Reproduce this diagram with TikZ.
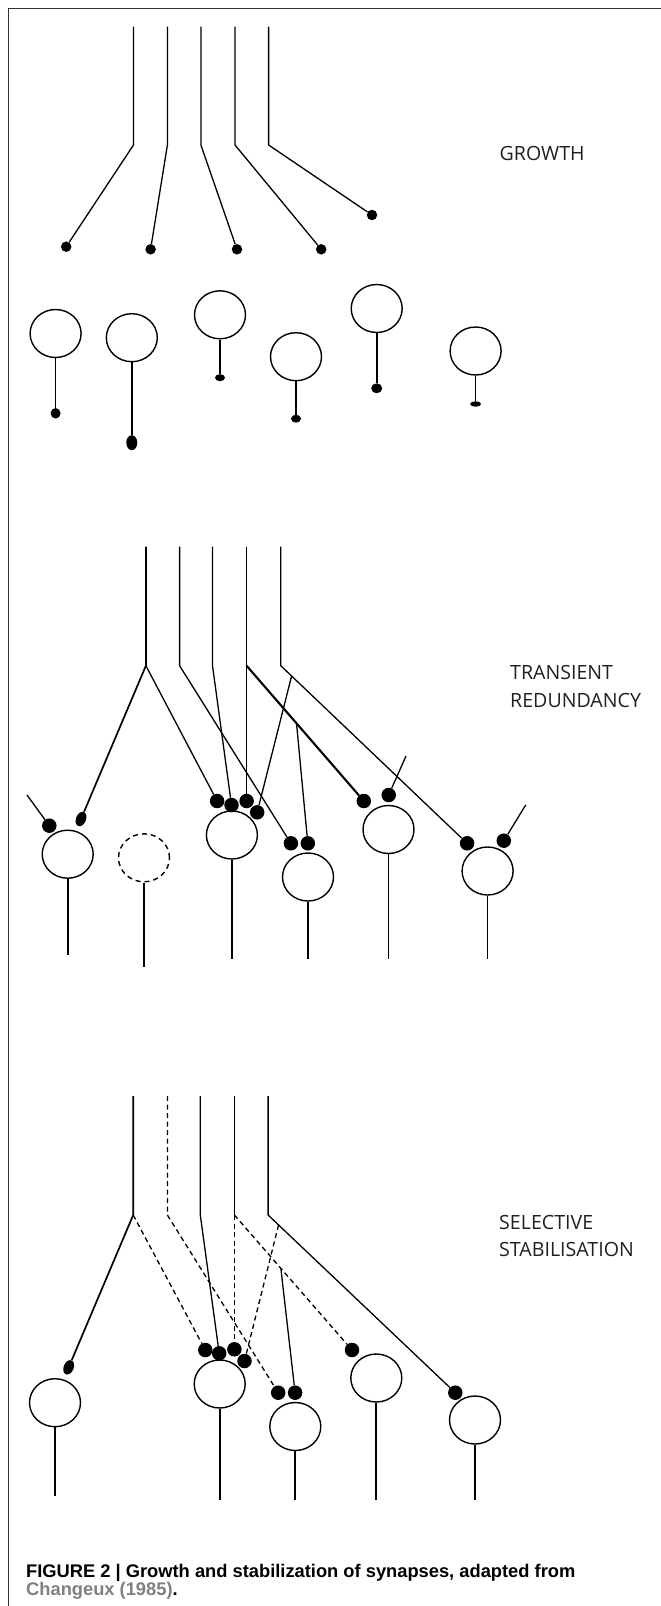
\documentclass[tikz,border=0pt]{standalone}
\usepackage{fontspec}
\usepackage{tikz}
\usetikzlibrary{shapes.geometric,calc}
\newfontfamily\stagefont{Open Sans}
\newfontfamily\capfont{Liberation Sans}
\definecolor{inkgrey}{HTML}{231F20}
\definecolor{refgrey}{HTML}{808080}

\tikzset{
  cell/.style={draw, ellipse, inner sep=0pt, minimum width=51pt, minimum height=48pt, line width=1.4pt},
  deadcell/.style={cell, dash pattern=on 5pt off 4pt},
  bouton/.style={fill, circle, inner sep=0pt, minimum size=14.5pt},
  knob/.style 2 args={fill, ellipse, inner sep=0pt, minimum width=#1, minimum height=#2},
  fibre/.style={line width=1.3pt},
  lost/.style={fibre, dash pattern=on 5pt off 3.5pt},
  stem/.style={line width=1.7pt},
  stage/.style={font=\stagefont\fontsize{19.6}{24}\selectfont, text=inkgrey, anchor=base west, inner sep=0pt},
  capt/.style={font=\capfont\bfseries\fontsize{18.3}{20}\selectfont, anchor=base west, inner sep=0pt},
}

\begin{document}
\begin{tikzpicture}[x=1pt, y=-1pt]
    \useasboundingbox (0,0) rectangle (661,1606);
    % frame
    \draw[line width=1pt, black!80] (661,8) -- (8,8) -- (8,1606);

    % Growth: five axons grow towards the cells
    \foreach \x [count=\i] in {133.5,167.4,200.9,235,268.6} {
        \coordinate (ga\i) at (\x,26.7);
        \coordinate (gk\i) at (\x,145);
    }
    \node[knob={10.5pt}{10.5pt}] (gt1) at (66.2,246.7) {};
    \node[knob={10.5pt}{10.5pt}] (gt2) at (150.6,249.3) {};
    \node[knob={10.5pt}{10.5pt}] (gt3) at (237,249.3) {};
    \node[knob={10.5pt}{10.5pt}] (gt4) at (321.2,249.3) {};
    \node[knob={10.5pt}{10.5pt}] (gt5) at (372,215) {};
    \foreach \i in {1,...,5}
        \draw[fibre] (ga\i) -- (gk\i) -- (gt\i);
    % cells with their own axons
    \foreach \cx/\cy/\ky/\kw/\kh [count=\i] in {55.6/333.5/413.3/10pt/10.5pt, 131.8/337.7/442.7/11pt/15pt,
            220/314.8/377.7/10pt/7pt, 296/356.7/418.7/10pt/8pt, 376.7/308.5/388.3/11pt/10pt, 475.6/351/404/11pt/5.5pt} {
        \node[cell] (gc\i) at (\cx,\cy) {};
        \node[knob={\kw}{\kh}] (gs\i) at (\cx,\ky) {};
        \draw[stem] (gc\i) -- (gs\i);
    }
    \node[stage] (growth) at (499.5,160.7) {GROWTH};

    % Transient redundancy
    \foreach \x [count=\i] in {145.9,179.6,212.5,246.6,280.8} {
        \coordinate (ta\i) at (\x,546.7);
        \coordinate (tk\i) at (\x,665.7);
    }
    \node[cell] (tc1) at (67.7,854.2) {};
    \node[deadcell] (tc2) at (144,857.8) {};
    \node[cell] (tc3) at (231.9,835) {};
    \node[cell] (tc4) at (308,877) {};
    \node[cell] (tc5) at (388.5,829.5) {};
    \node[cell] (tc6) at (487.6,871) {};
    \foreach \i/\y in {1/955,2/966.7,3/959,4/959,5/959,6/959}
        \draw[stem] (tc\i) -- (tc\i |- 0,\y);
    \node[bouton] (tb1) at (49.3,825.7) {};
    \node[knob={10pt}{15pt}, rotate=-22] (tb2) at (81,819) {};
    \node[bouton] (tb3) at (217.1,801) {};
    \node[bouton] (tb4) at (231.5,805) {};
    \node[bouton] (tb5) at (246.6,801) {};
    \node[bouton] (tb6) at (257.2,812.3) {};
    \node[bouton] (tb7) at (290.9,843.3) {};
    \node[bouton] (tb8) at (307.8,843.3) {};
    \node[bouton] (tb9) at (363.8,801) {};
    \node[bouton] (tb10) at (388.7,795) {};
    \node[bouton] (tb11) at (467.1,843.3) {};
    \node[bouton] (tb12) at (503.8,840.7) {};
    \draw[fibre, line width=1.7pt] (ta1) -- (tk1) -- (tb2);
    \draw[fibre] (tk1) -- (tb3);
    \draw[fibre] (ta2) -- (tk2) -- (tb7);
    \draw[fibre] (ta3) -- (tk3) -- (tb4);
    \draw[fibre] (ta4) -- (tb5);
    \draw[fibre, line width=2.1pt] (tk4) -- (tb9);
    \draw[fibre] ($(tk4)!0.426!(tb9)$) -- (tb8);
    \draw[fibre] (ta5) -- (tk5) -- (tb11);
    \draw[fibre] ($(tk5)!0.058!(tb11)$) -- (tb6);
    % afferents from outside
    \coordinate (tx1) at (27,795);
    \coordinate (tx2) at (406,756);
    \coordinate (tx3) at (525.7,805);
    \draw[fibre] (tx1) -- (tb1);
    \draw[fibre] (tx2) -- (tb10);
    \draw[fibre] (tx3) -- (tb12);
    \node[stage] (trans1) at (510,679.7) {TRANSIENT};
    \node[stage] (trans2) at (510,707.3) {REDUNDANCY};

    % Selective stabilisation
    \foreach \x [count=\i] in {133.2,167.4,200.3,234.4,268.1} {
        \coordinate (sa\i) at (\x,1096);
        \coordinate (sk\i) at (\x,1215);
    }
    \node[cell] (sc1) at (55,1402.7) {};
    \node[cell] (sc2) at (219.7,1384) {};
    \node[cell] (sc3) at (295.3,1426.5) {};
    \node[cell] (sc4) at (376.3,1378) {};
    \node[cell] (sc5) at (475,1420) {};
    \foreach \i/\y in {1/1496,2/1500,3/1500,4/1500,5/1500}
        \draw[stem] (sc\i) -- (sc\i |- 0,\y);
    \node[knob={10pt}{15pt}, rotate=-22] (su1) at (68.7,1367.3) {};
    \node[bouton] (su2) at (205.3,1350) {};
    \node[bouton] (su3) at (219.2,1353.3) {};
    \node[bouton] (su4) at (234.4,1349.3) {};
    \node[bouton] (su5) at (244.5,1361) {};
    \node[bouton] (su6) at (278.2,1392.7) {};
    \node[bouton] (su7) at (295.1,1392.7) {};
    \node[bouton] (su8) at (352,1350) {};
    \node[bouton] (su9) at (455.3,1392.7) {};
    \draw[fibre, line width=1.7pt] (sa1) -- (sk1) -- (su1);
    \draw[lost] (sk1) -- (su2);
    \draw[lost] (sa2) -- (sk2) -- (su6);
    \draw[fibre] (sa3) -- (sk3) -- (su3);
    \draw[fibre] (sa4) -- (sk4);
    \draw[lost] (sk4) -- (su4);
    \draw[lost] (sk4) -- (su8);
    \draw[fibre] ($(sk4)!0.395!(su8)$) -- (su7);
    \draw[fibre] (sa5) -- (sk5) -- (su9);
    \draw[lost] ($(sk5)!0.056!(su9)$) -- (su5);
    \node[stage] (select1) at (499,1229) {SELECTIVE};
    \node[stage] (select2) at (499,1256.7) {STABILISATION};

    % caption
    \node[capt] (cap1) at (26,1577.3) {FIGURE 2 | Growth and stabilization of synapses, adapted from};
    \node[capt] (cap2) at (26,1595) {\textcolor{refgrey}{Changeux (1985)}.};
\end{tikzpicture}
\end{document}
